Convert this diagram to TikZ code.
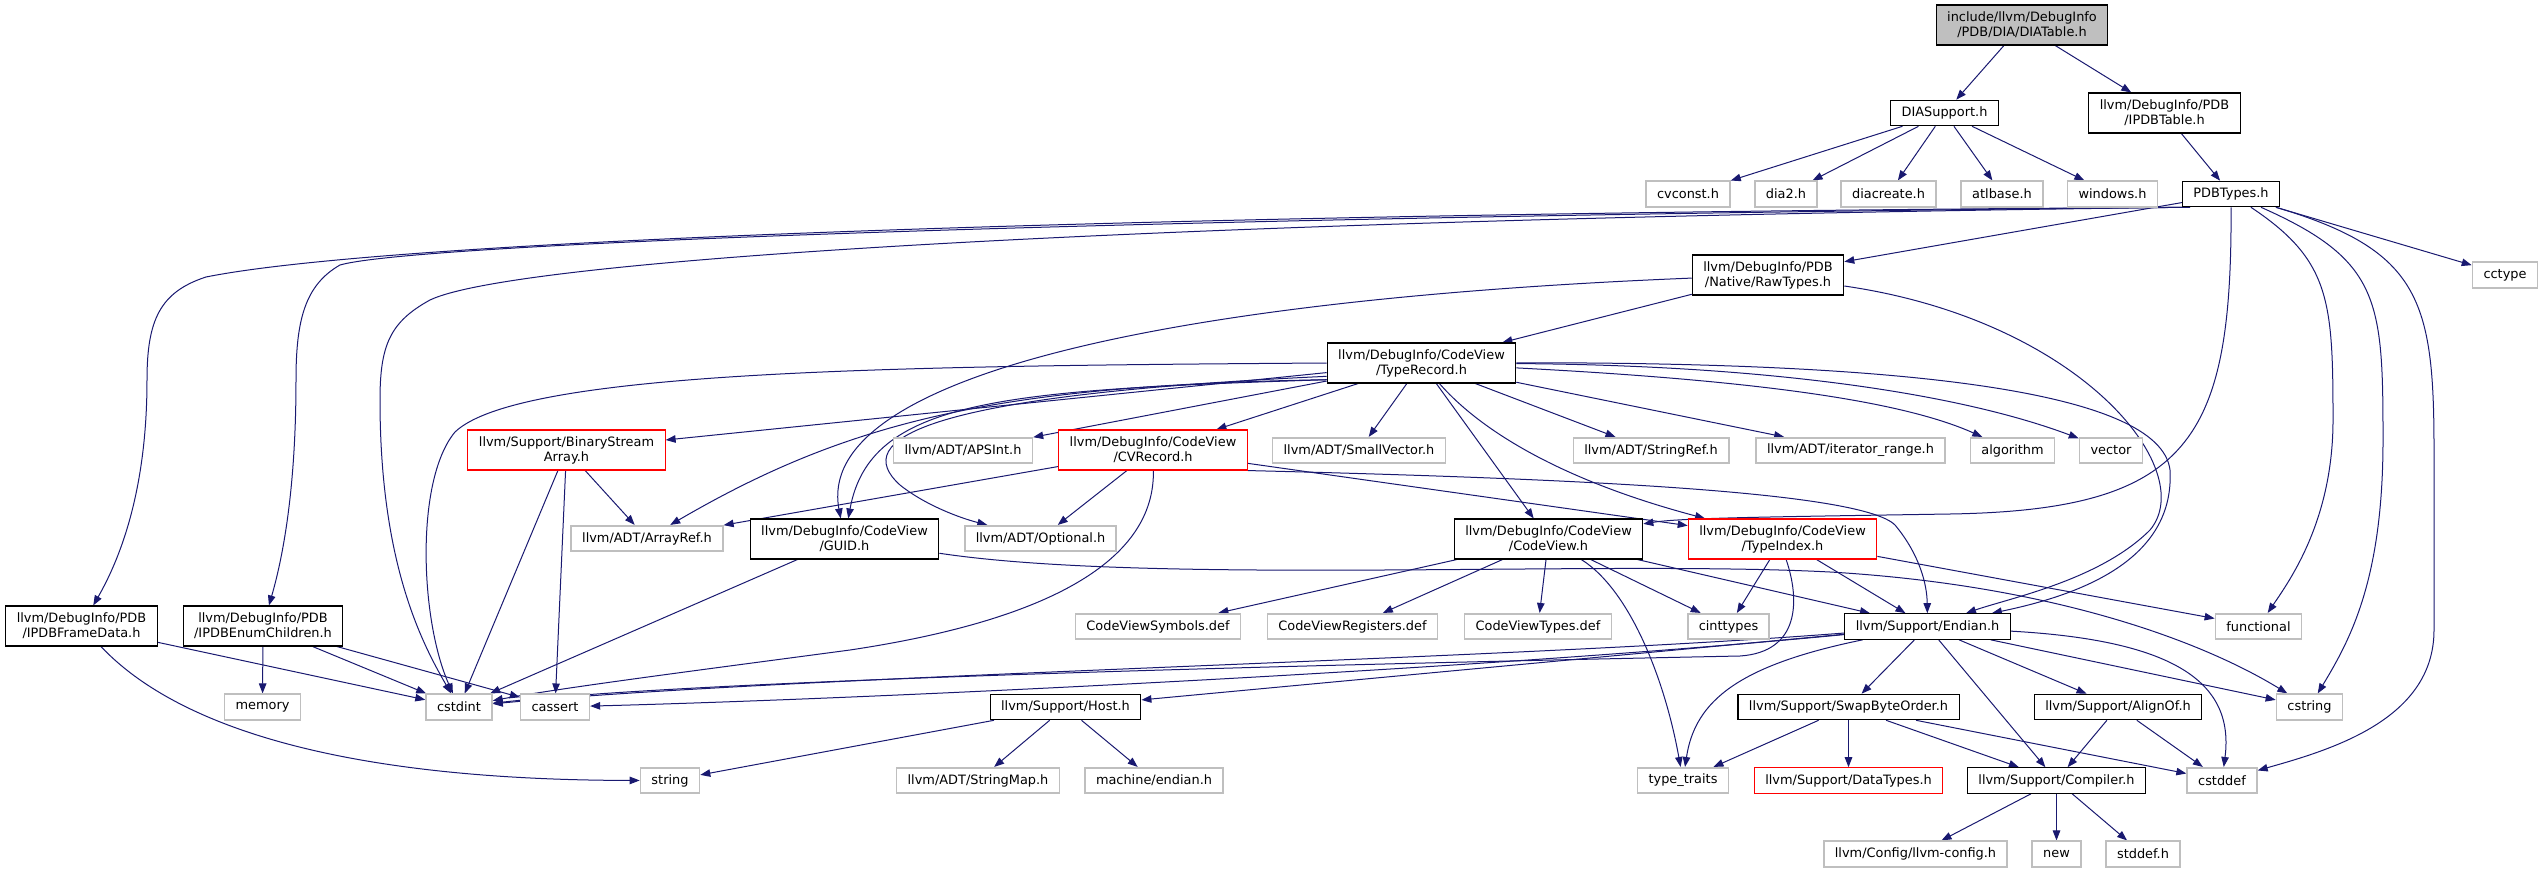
\documentclass[tikz,border=0pt]{standalone}
\usepackage{fontspec}
\setmainfont{DejaVu Sans}
\usepackage{tikz}
\usetikzlibrary{arrows.meta, backgrounds}
\definecolor{edgeBlue}{RGB}{25, 25, 112}
\definecolor{sysGrey}{RGB}{191, 191, 191}
\definecolor{rootGrey}{RGB}{191, 191, 191}

\begin{document}
\begin{tikzpicture}[
                x=1pt, y=-1pt,
                hdr/.style={rectangle, draw=black, line width=1.1pt, fill=white, inner xsep=11pt, inner ysep=5pt, minimum height=25.5pt, align=center, font=\fontsize{12.9}{15}\selectfont},
                tall/.style={minimum height=40pt},
                sys/.style={hdr, draw=sysGrey, line width=1.6pt},
                trunc/.style={hdr, draw=red},
                root/.style={hdr, tall, fill=rootGrey},
                arrow/.style={-{Triangle[length=10pt, width=7.5pt]}, draw=edgeBlue, line width=1pt}
            ]
                \useasboundingbox (0,0) rectangle (2543,872);

                % --- ROOT AND DIA SUPPORT ---
                \node[root] (dia_table) at (2022,25) {include/llvm/DebugInfo\\/PDB/DIA/DIATable.h};
                \node[hdr] (dia_support) at (1944.5,113) {DIASupport.h};
                \node[hdr, tall] (ipdb_table) at (2164.5,113) {llvm/DebugInfo/PDB\\/IPDBTable.h};
                \node[sys] (cvconst) at (1688,194) {cvconst.h};
                \node[sys] (dia_two) at (1786,194) {dia2.h};
                \node[sys] (dia_create) at (1888.5,194) {diacreate.h};
                \node[sys] (atl_base) at (2002,194) {atlbase.h};
                \node[sys] (windows_h) at (2112.5,194) {windows.h};
                \node[hdr] (pdb_types) at (2231,194) {PDBTypes.h};
                \node[sys] (cctype) at (2505,275) {cctype};
                \node[hdr, tall] (raw_types) at (1768,275) {llvm/DebugInfo/PDB\\/Native/RawTypes.h};

                % --- CODEVIEW ---
                \node[hdr, tall] (type_rec) at (1421.5,363) {llvm/DebugInfo/CodeView\\/TypeRecord.h};
                \node[trunc, tall] (bsa) at (566.5,450) {llvm/Support/BinaryStream\\Array.h};
                \node[sys] (aps_int) at (963,450.5) {llvm/ADT/APSInt.h};
                \node[trunc, tall] (cv_rec) at (1153,450) {llvm/DebugInfo/CodeView\\/CVRecord.h};
                \node[sys] (small_vec) at (1359,450.5) {llvm/ADT/SmallVector.h};
                \node[sys] (string_ref) at (1651,450.5) {llvm/ADT/StringRef.h};
                \node[sys] (iter_range) at (1850.5,450.5) {llvm/ADT/iterator\_range.h};
                \node[sys] (algorithm) at (2012.5,450.5) {algorithm};
                \node[sys] (vector) at (2111,450.5) {vector};
                \node[sys] (array_ref) at (647,538.5) {llvm/ADT/ArrayRef.h};
                \node[hdr, tall] (guid) at (844.5,539) {llvm/DebugInfo/CodeView\\/GUID.h};
                \node[sys] (optional) at (1040.5,538.5) {llvm/ADT/Optional.h};
                \node[hdr, tall] (code_view) at (1548.5,539) {llvm/DebugInfo/CodeView\\/CodeView.h};
                \node[trunc, tall] (type_index) at (1782.5,539) {llvm/DebugInfo/CodeView\\/TypeIndex.h};

                % --- PDB INTERFACES ---
                \node[hdr, tall] (ipdb_frame) at (81.5,626) {llvm/DebugInfo/PDB\\/IPDBFrameData.h};
                \node[hdr, tall] (ipdb_enum) at (263,626) {llvm/DebugInfo/PDB\\/IPDBEnumChildren.h};
                \node[sys] (cv_symbols) at (1158,626.5) {CodeViewSymbols.def};
                \node[sys] (cv_registers) at (1352.5,626.5) {CodeViewRegisters.def};
                \node[sys] (cv_types) at (1538,626.5) {CodeViewTypes.def};
                \node[sys] (cinttypes) at (1728.5,626.5) {cinttypes};
                \node[hdr] (endian) at (1927.5,626.5) {llvm/Support/Endian.h};
                \node[sys] (functional) at (2258.5,626.5) {functional};

                % --- SUPPORT ---
                \node[sys] (memory) at (262.5,707) {memory};
                \node[sys] (cstdint) at (459,707) {cstdint};
                \node[sys] (cassert) at (555,707) {cassert};
                \node[hdr] (host) at (1065.5,707) {llvm/Support/Host.h};
                \node[hdr] (swap_byte) at (1848.5,707) {llvm/Support/SwapByteOrder.h};
                \node[hdr] (align_of) at (2118,707) {llvm/Support/AlignOf.h};
                \node[sys] (cstring) at (2309.5,707) {cstring};
                \node[sys] (string_h) at (670,780.5) {string};
                \node[sys] (string_map) at (978,780.5) {llvm/ADT/StringMap.h};
                \node[sys] (mach_endian) at (1154,780.5) {machine/endian.h};
                \node[sys] (type_traits) at (1683,780.5) {type\_traits};
                \node[trunc] (data_types) at (1848.5,780.5) {llvm/Support/DataTypes.h};
                \node[hdr] (compiler) at (2056.5,780.5) {llvm/Support/Compiler.h};
                \node[sys] (cstddef) at (2222,780.5) {cstddef};
                \node[sys] (llvm_config) at (1915.5,854) {llvm/Config/llvm-config.h};
                \node[sys] (new_h) at (2056.5,854) {new};
                \node[sys] (stddef_h) at (2143,854) {stddef.h};

                \begin{scope}[on background layer]
                % Arrows from the top
                \draw[arrow] (dia_table) -- (dia_support);
                \draw[arrow] (dia_table) -- (ipdb_table);
                \foreach \n in {cvconst, dia_two, dia_create, atl_base, windows_h}
                    \draw[arrow] (dia_support) -- (\n);
                \draw[arrow] (ipdb_table) -- (pdb_types);
                \draw[arrow] (pdb_types) -- (cctype);
                \draw[arrow] (pdb_types) -- (raw_types);
                \draw[arrow] (pdb_types.198) .. controls (1200,213) and (400,238) .. (206,277) .. controls (160,292) and (147,320) .. (147,380) .. controls (147,480) and (125,550) .. (ipdb_frame);
                \draw[arrow] (pdb_types.197) .. controls (1200,216) and (420,242) .. (340,265) .. controls (305,285) and (296,320) .. (296,380) .. controls (296,480) and (285,550) .. (ipdb_enum);
                \draw[arrow] (pdb_types.196) .. controls (1200,219) and (520,257) .. (430,300) .. controls (390,322) and (380,345) .. (380,400) .. controls (380,560) and (420,640) .. (cstdint);
                \draw[arrow] (pdb_types) .. controls (2232,440) and (2190,510) .. (1950,514) .. controls (1760,517) and (1680,518) .. (code_view);
                \draw[arrow] (pdb_types) .. controls (2330,260) and (2333,300) .. (2333,420) .. controls (2333,520) and (2290,580) .. (functional);
                \draw[arrow] (pdb_types) .. controls (2380,260) and (2383,300) .. (2383,440) .. controls (2383,580) and (2350,640) .. (cstring);
                \draw[arrow] (pdb_types) .. controls (2420,250) and (2434,300) .. (2434,450) -- (2434,630) .. controls (2434,720) and (2330,750) .. (cstddef);

                % Arrows for RawTypes
                \draw[arrow] (raw_types) -- (type_rec);
                \draw[arrow] (raw_types) .. controls (1150,300) and (815,380) .. (guid);
                \draw[arrow] (raw_types) .. controls (2080,320) and (2200,470) .. (2150,530) .. controls (2100,580) and (2010,598) .. (endian);

                % Arrows for TypeRecord
                \draw[arrow] (type_rec.180) .. controls (900,366) and (520,370) .. (455,432) .. controls (415,480) and (420,620) .. (cstdint);
                \draw[arrow] (type_rec) -- (bsa);
                \draw[arrow] (type_rec.190) .. controls (1000,385) and (850,420) .. (array_ref);
                \draw[arrow] (type_rec.190) .. controls (1000,390) and (870,400) .. (guid);
                \draw[arrow] (type_rec.188) .. controls (920,395) and (850,440) .. (900,485) .. controls (925,505) and (960,518) .. (optional);
                \draw[arrow] (type_rec) -- (aps_int);
                \draw[arrow] (type_rec) -- (cv_rec);
                \draw[arrow] (type_rec) -- (small_vec);
                \draw[arrow] (type_rec) -- (code_view);
                \draw[arrow] (type_rec) .. controls (1480,430) and (1560,480) .. (type_index);
                \draw[arrow] (type_rec) -- (string_ref);
                \draw[arrow] (type_rec) -- (iter_range);
                \draw[arrow] (type_rec) .. controls (1750,380) and (1900,400) .. (algorithm);
                \draw[arrow] (type_rec) .. controls (1750,365) and (1950,390) .. (vector);
                \draw[arrow] (type_rec) .. controls (1900,362) and (2160,390) .. (2170,470) .. controls (2175,560) and (2080,595) .. (endian);

                % Arrows for BinaryStreamArray and CVRecord
                \draw[arrow] (bsa) -- (array_ref);
                \draw[arrow] (bsa) -- (cstdint);
                \draw[arrow] (bsa) -- (cassert);
                \draw[arrow] (cv_rec) -- (array_ref);
                \draw[arrow] (cv_rec) -- (optional);
                \draw[arrow] (cv_rec) .. controls (1155,560) and (1050,620) .. (850,650) .. controls (700,670) and (560,688) .. (cstdint);
                \draw[arrow] (cv_rec) -- (type_index);
                \draw[arrow] (cv_rec.south east) .. controls (1550,478) and (1860,490) .. (1895,525) .. controls (1920,555) and (1927,585) .. (endian);

                % Arrows for GUID, CodeView and TypeIndex
                \draw[arrow] (guid) -- (cstdint);
                \draw[arrow] (guid) .. controls (1150,585) and (1600,560) .. (1830,572) .. controls (2050,585) and (2200,640) .. (cstring);
                \foreach \n in {cv_symbols, cv_registers, cv_types, cinttypes, endian}
                    \draw[arrow] (code_view) -- (\n);
                \draw[arrow] (code_view) .. controls (1630,590) and (1665,680) .. (type_traits);
                \draw[arrow] (type_index) -- (cinttypes);
                \draw[arrow] (type_index) -- (endian);
                \draw[arrow] (type_index) -- (functional);
                \draw[arrow] (type_index.-80) .. controls (1800,600) and (1800,652) .. (1740,656) .. controls (1300,665) and (700,680) .. (cstdint);

                % Arrows for PDB interfaces
                \draw[arrow] (ipdb_frame) -- (cstdint);
                \draw[arrow] (ipdb_frame) .. controls (180,730) and (350,780) .. (string_h);
                \draw[arrow] (ipdb_enum) -- (memory);
                \draw[arrow] (ipdb_enum) -- (cstdint);
                \draw[arrow] (ipdb_enum) -- (cassert);

                % Arrows for Endian
                \draw[arrow] (endian) .. controls (1500,660) and (800,675) .. (cstdint);
                \draw[arrow] (endian) .. controls (1500,668) and (900,698) .. (cassert);
                \draw[arrow] (endian) -- (host);
                \draw[arrow] (endian) .. controls (1740,665) and (1695,700) .. (type_traits);
                \draw[arrow] (endian) -- (swap_byte);
                \draw[arrow] (endian) -- (compiler);
                \draw[arrow] (endian) -- (align_of);
                \draw[arrow] (endian) -- (cstring);
                \draw[arrow] (endian) .. controls (2170,640) and (2235,680) .. (cstddef);

                % Arrows for the lower support headers
                \draw[arrow] (host) -- (string_h);
                \draw[arrow] (host) -- (string_map);
                \draw[arrow] (host) -- (mach_endian);
                \foreach \n in {type_traits, data_types, compiler, cstddef}
                    \draw[arrow] (swap_byte) -- (\n);
                \draw[arrow] (align_of) -- (compiler);
                \draw[arrow] (align_of) -- (cstddef);
                \foreach \n in {llvm_config, new_h, stddef_h}
                    \draw[arrow] (compiler) -- (\n);
                \end{scope}

\end{tikzpicture}
\end{document}
